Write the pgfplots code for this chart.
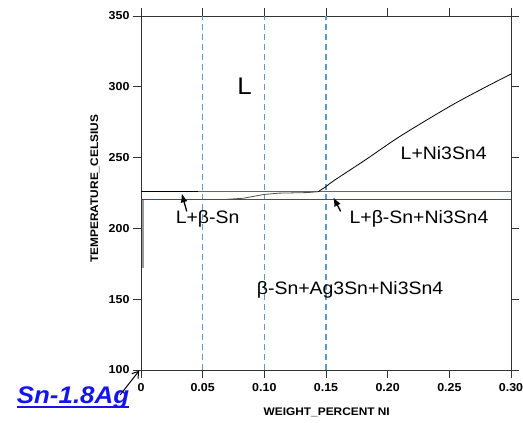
\documentclass[border=0pt]{standalone}
\usepackage{fontspec}
\setmainfont[FakeStretch=1.08]{Liberation Sans}
\usepackage{pgfplots}
\pgfplotsset{compat=1.18}
\usetikzlibrary{arrows.meta}
\definecolor{guide}{RGB}{91,155,213}
\definecolor{snblue}{RGB}{20,20,235}
\definecolor{eutred}{RGB}{255,0,0}

\begin{document}
\begin{tikzpicture}
\begin{axis}[
  name=ax,
  scale only axis,
  width=370pt, height=354pt,
  xmin=0, xmax=0.30, ymin=100, ymax=350,
  xtick={0,0.05,0.10,0.15,0.20,0.25,0.30},
  xticklabels={0,0.05,0.10,0.15,0.20,0.25,0.30},
  ytick={100,150,200,250,300,350},
  yticklabels={100,150,200,250,300,350},
  tick align=outside,
  major tick length=8pt,
  tick style={black!80, line width=0.9pt},
  axis line style={black!80, line width=0.9pt},
  tick label style={font=\bfseries\fontsize{11.5}{13}\selectfont},
  xticklabel style={yshift=-2pt},
  xlabel={WEIGHT\_PERCENT NI},
  ylabel={TEMPERATURE\_CELSIUS},
  label style={font=\bfseries\fontsize{11}{13}\selectfont},
  xlabel style={at={(axis description cs:0.502,-0.1186)}, anchor=center},
  ylabel style={at={(axis description cs:-0.1243,0.512)}, anchor=center},
  clip=false,
]
% guide lines at 0.05, 0.10, 0.15 wt% Ni
\addplot[guide, line width=1.5pt, dash pattern=on 6pt off 4pt] coordinates {(0.05,100) (0.05,350)};
\addplot[guide, line width=1.5pt, dash pattern=on 6pt off 4pt] coordinates {(0.10,100) (0.10,350)};
\addplot[guide, line width=1.5pt, dash pattern=on 6pt off 4pt] coordinates {(0.15,100) (0.15,350)};

% phase boundaries
\addplot[black!60, line width=0.8pt] coordinates {(0,226) (0.30,226)};
\addplot[black, line width=0.8pt] coordinates {(0,226) (0.046,226)};
\addplot[black!70, line width=0.8pt] coordinates {(0.069,220.5) (0.083,221.3) (0.10,224) (0.112,224.9) (0.135,225.3) (0.1435,225.9)};
\addplot[black, line width=0.8pt, smooth] coordinates {
  (0.1435,225.9) (0.15,229.5) (0.156,233.5) (0.183,249) (0.21,265)
  (0.25,286) (0.2776,299) (0.30,309)};
\addplot[black!40, line width=1.6pt] coordinates {(0.0015,220.5) (0.0015,172)};
\addplot[eutred, line width=1.2pt] coordinates {(0.003,220.5) (0.30,220.5)};
\addplot[black!75, line width=1pt] coordinates {(0,220.5) (0.004,220.5)};

% region labels
\node[font=\fontsize{24}{28}\selectfont, anchor=base] at (axis cs:0.0839,294.7) {L};
\node[font=\fontsize{18}{21}\selectfont, anchor=base] at (axis cs:0.2454,248.8) {L+Ni3Sn4};
\node[font=\fontsize{18}{21}\selectfont, anchor=base] at (axis cs:0.054,203.8) {L+β-Sn};
\node[font=\fontsize{18}{21}\selectfont, anchor=base] at (axis cs:0.2254,203.8) {L+β-Sn+Ni3Sn4};
\node[font=\fontsize{18}{21}\selectfont, anchor=base] at (axis cs:0.1695,153) {β-Sn+Ag3Sn+Ni3Sn4};

% pointers
\draw[-{Latex[length=9pt,width=7pt]}, line width=1.3pt] (axis cs:0.0371,212) -- (axis cs:0.0330,224.8);
\draw[-{Latex[length=9pt,width=7pt]}, line width=1.3pt] (axis cs:0.1619,212) -- (axis cs:0.1559,222);

% alloy tag
\node[font=\bfseries\itshape\fontsize{24}{28}\selectfont, text=snblue, anchor=base, inner sep=0pt] (tag) at (axis cs:-0.0551,76) {Sn-1.8Ag};
\draw[snblue, line width=1.5pt] ([yshift=-3pt]tag.base west) -- ([yshift=-3pt]tag.base east);
\draw[-{Straight Barb[length=6pt,width=8pt]}, line width=1pt] (axis cs:-0.017,82.3) -- (axis cs:-0.0015,99.5);
\end{axis}
\pgfresetboundingbox
\path[use as bounding box] ([shift={(-141pt,-52pt)}]ax.south west) rectangle ([shift={(12pt,16pt)}]ax.north east);
\end{tikzpicture}
\end{document}
